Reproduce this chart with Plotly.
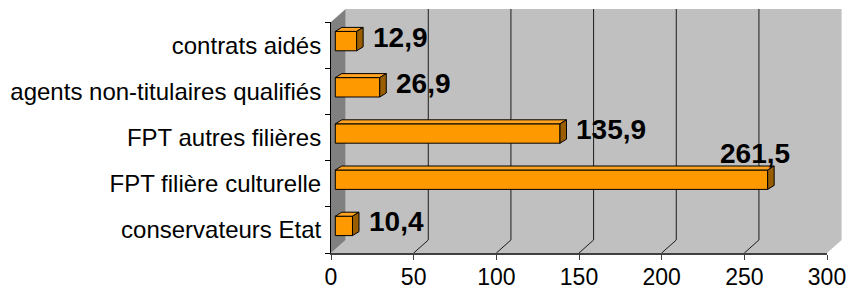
import plotly.graph_objects as go

# ---- data ----
categories = ["conservateurs Etat", "FPT filière culturelle", "FPT autres filières",
              "agents non-titulaires qualifiés", "contrats aidés"]
values = [10.4, 261.5, 135.9, 26.9, 12.9]
value_labels = ["10,4", "261,5", "135,9", "26,9", "12,9"]
x_ticks = [0, 50, 100, 150, 200, 250, 300]

# ---- geometry (pixels) ----
W, H = 850, 291
ML, MR, MT, MB = 331, 23, 22, 38
PW, PH = W - ML - MR, H - MT - MB
XMAX = 300
PXU = PW / XMAX                      # px per unit
N = len(categories)
PXC = PH / N                         # px per category
DEPTH_X, DEPTH_Y = 14.6, 13.0        # 3D depth of the walls
BAR_OFF_X, BAR_OFF_Y = 4.3, 4.0      # bar front-plane offset
BAR_DX, BAR_DY = 6.5, 4.0            # bar depth
BAR_W = 0.42

FONT = "Arial, 'Liberation Sans', sans-serif"
ORANGE = "#FF9900"
SIDE = "#9A5E00"
TOP = "#FFA321"

dxu = DEPTH_X / PXU
dyp = DEPTH_Y / PH
bdx = BAR_DX / PXU
bdy = BAR_DY / PXC

fig = go.Figure()

# invisible trace to build the category axis
fig.add_trace(go.Scatter(x=values, y=categories, mode="markers",
                         marker=dict(opacity=0), hoverinfo="skip", showlegend=False))

idx = list(range(N))
# front faces of the bars
fig.add_trace(go.Bar(x=values, y=idx, orientation="h", width=BAR_W,
                     marker=dict(color=ORANGE, line=dict(color="black", width=1)),
                     xaxis="x2", yaxis="y2", hoverinfo="skip", showlegend=False))

# top and side faces
for i, v in zip(idx, values):
    yt = i + BAR_W / 2
    yb = i - BAR_W / 2
    fig.add_trace(go.Scatter(x=[0, v, v + bdx, bdx, 0], y=[yt, yt, yt + bdy, yt + bdy, yt],
                             mode="lines", fill="toself", fillcolor=TOP,
                             line=dict(color="black", width=1),
                             xaxis="x2", yaxis="y2", hoverinfo="skip", showlegend=False))
    fig.add_trace(go.Scatter(x=[v, v + bdx, v + bdx, v, v], y=[yb, yb + bdy, yt + bdy, yt, yb],
                             mode="lines", fill="toself", fillcolor=SIDE,
                             line=dict(color="black", width=1),
                             xaxis="x2", yaxis="y2", hoverinfo="skip", showlegend=False))

shapes = []
wx = DEPTH_X / PW
wy0 = dyp
wy1 = 1 + dyp
# back wall
shapes.append(dict(type="rect", xref="paper", yref="paper", x0=wx, x1=1 + wx, y0=wy0, y1=wy1,
                   fillcolor="#C0C0C0", line=dict(width=0), layer="below"))
# floor
shapes.append(dict(type="path", xref="paper", yref="paper",
                   path=f"M 0,0 L {wx},{wy0} L {1+wx},{wy0} L 1,0 Z",
                   fillcolor="#C0C0C0", line=dict(width=0), layer="below"))
# left wall
shapes.append(dict(type="path", xref="paper", yref="paper",
                   path=f"M 0,0 L 0,1 L {wx},{wy1} L {wx},{wy0} Z",
                   fillcolor="#808080", line=dict(width=0), layer="below"))
# gridlines on back wall + floor diagonals
for t in x_ticks[1:-1]:
    shapes.append(dict(type="line", xref="x", yref="paper", x0=t + dxu, x1=t + dxu,
                       y0=wy0, y1=wy1, line=dict(color="#1a1a1a", width=1), layer="below"))
for t in x_ticks[1:]:
    shapes.append(dict(type="line", xref="x", yref="paper", x0=t, x1=t + dxu,
                       y0=0, y1=wy0, line=dict(color="#1a1a1a", width=1), layer="below"))

annotations = []
for i, v, lab in zip(idx, values, value_labels):
    if v + bdx + 60 / PXU > XMAX:
        annotations.append(dict(x=v, y=i, xref="x2", yref="y2", text=lab, showarrow=False,
                                xanchor="center", yanchor="middle", xshift=-13, yshift=26,
                                font=dict(family=FONT, size=28, color="black", weight="bold")))
    else:
        annotations.append(dict(x=v + bdx, y=i, xref="x2", yref="y2", text=lab, showarrow=False,
                                xanchor="left", yanchor="middle", xshift=8, yshift=4,
                                font=dict(family=FONT, size=28, color="black", weight="bold")))

fig.update_layout(
    width=W, height=H,
    margin=dict(l=ML, r=MR, t=MT, b=MB, pad=0, autoexpand=False),
    paper_bgcolor="white", plot_bgcolor="rgba(0,0,0,0)",
    showlegend=False,
    font=dict(family=FONT, size=24, color="black"),
    xaxis=dict(range=[0, XMAX], tickvals=x_ticks, ticks="outside", ticklen=5,
               tickcolor="#404040", showline=True, linecolor="#404040", linewidth=2,
               showgrid=False, zeroline=False, tickfont=dict(size=23), automargin=False,
               ticklabelstandoff=-3),
    yaxis=dict(type="category", categoryarray=categories, range=[-0.5, N - 0.5],
               ticks="outside", ticklen=5, tickson="boundaries", tickcolor="black",
               showline=True, linecolor="black", linewidth=1, showgrid=False,
               ticklabelstandoff=4, tickfont=dict(size=24), automargin=False),
    xaxis2=dict(overlaying="x", range=[-BAR_OFF_X / PXU, XMAX - BAR_OFF_X / PXU],
                visible=False),
    yaxis2=dict(overlaying="y", range=[-0.5 - BAR_OFF_Y / PXC, N - 0.5 - BAR_OFF_Y / PXC],
                visible=False),
    shapes=shapes,
    annotations=annotations,
)

fig.write_html("out.html", config={"displayModeBar": False},
               post_script="document.body.style.margin='0px';document.body.style.overflow='hidden';")
